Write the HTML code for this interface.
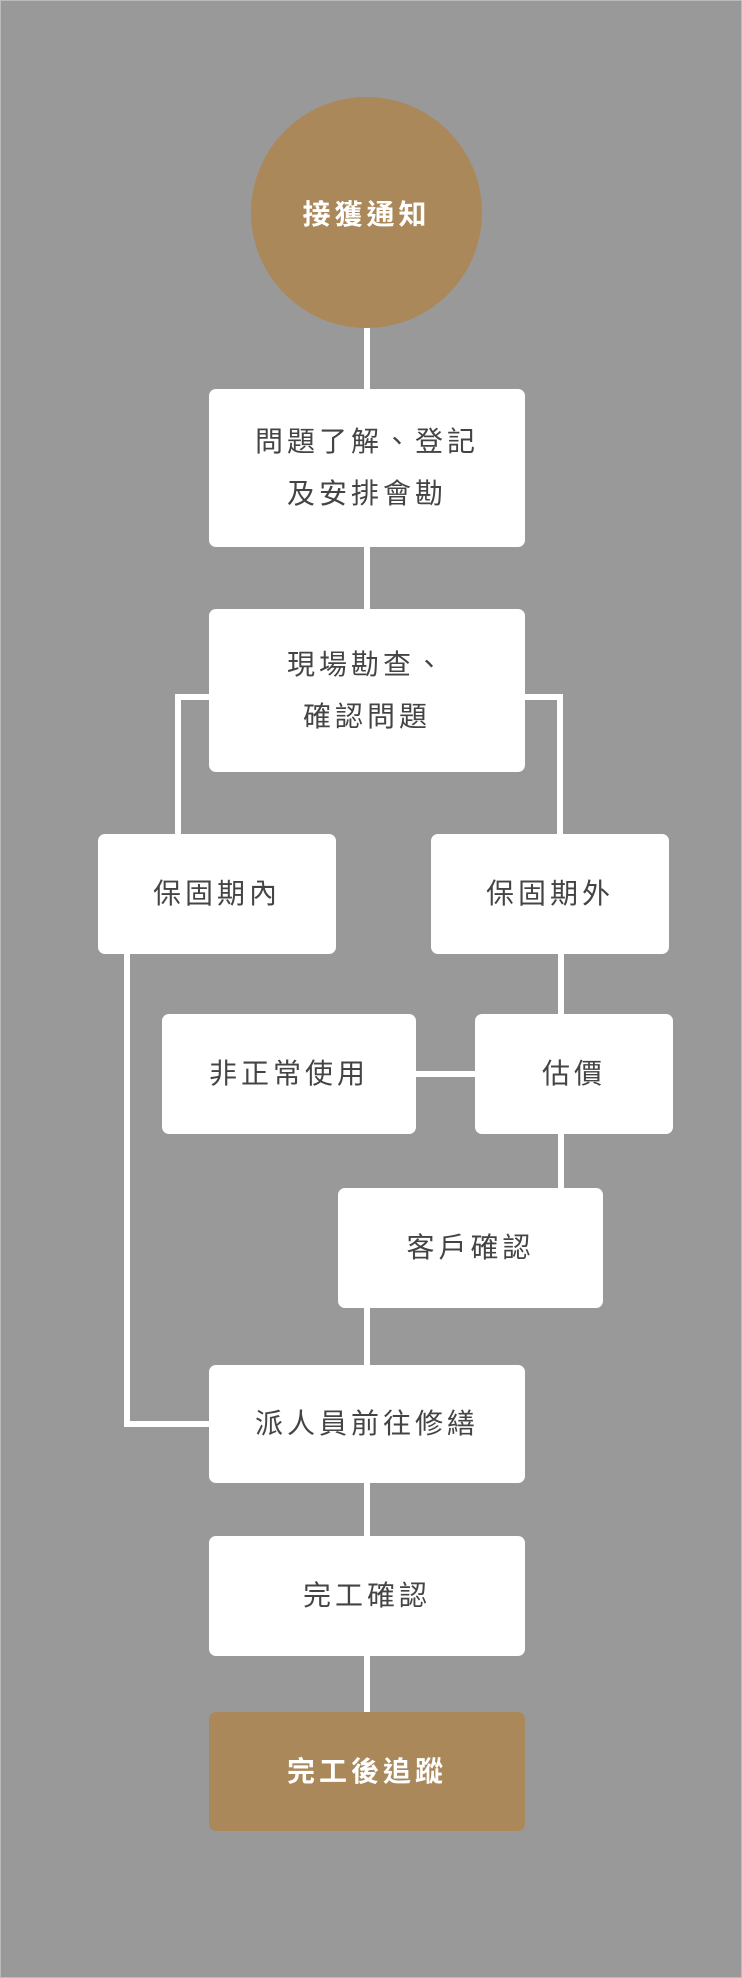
<!DOCTYPE html>
<html><head><meta charset="utf-8"><style>
html,body{margin:0;padding:0}
body{width:742px;height:1978px;background:#999;position:relative;overflow:hidden;font-family:"Liberation Sans","Noto Sans CJK TC",sans-serif}
.frame{position:absolute;left:0;top:0;width:740px;height:1976px;border:1px solid #bbb}
.b{position:absolute;background:#fff;border-radius:7px;display:flex;align-items:center;justify-content:center;text-align:center;color:#444;font-size:28px;letter-spacing:4px;line-height:52px}
.g{background:#ab8859;color:#fff;font-weight:bold}
.l{position:absolute;background:#fff}
.c{position:absolute;left:251px;top:97px;width:231px;height:231px;border-radius:50%;background:#ab8859;color:#fff;font-weight:bold;font-size:28px;letter-spacing:4px;display:flex;align-items:center;justify-content:center}
</style></head><body>
<div class="frame"></div>
<div class="l" style="left:364px;top:320px;width:6px;height:80px"></div>
<div class="l" style="left:364px;top:540px;width:6px;height:80px"></div>
<div class="l" style="left:175px;top:694px;width:40px;height:6px"></div>
<div class="l" style="left:175px;top:694px;width:6px;height:145px"></div>
<div class="l" style="left:520px;top:694px;width:43px;height:6px"></div>
<div class="l" style="left:557px;top:694px;width:6px;height:145px"></div>
<div class="l" style="left:124px;top:950px;width:6px;height:477px"></div>
<div class="l" style="left:124px;top:1421px;width:90px;height:6px"></div>
<div class="l" style="left:558px;top:950px;width:6px;height:70px"></div>
<div class="l" style="left:410px;top:1071px;width:70px;height:6px"></div>
<div class="l" style="left:558px;top:1130px;width:6px;height:62px"></div>
<div class="l" style="left:364px;top:1300px;width:6px;height:70px"></div>
<div class="l" style="left:364px;top:1478px;width:6px;height:62px"></div>
<div class="l" style="left:364px;top:1650px;width:6px;height:66px"></div>
<div class="c">接獲通知</div>
<div class="b" style="left:209px;top:389px;width:316px;height:158px">問題了解、登記<br>及安排會勘</div>
<div class="b" style="left:209px;top:609px;width:316px;height:163px">現場勘查、<br>確認問題</div>
<div class="b" style="left:98px;top:834px;width:238px;height:120px">保固期內</div>
<div class="b" style="left:431px;top:834px;width:238px;height:120px">保固期外</div>
<div class="b" style="left:162px;top:1014px;width:254px;height:120px">非正常使用</div>
<div class="b" style="left:475px;top:1014px;width:198px;height:120px">估價</div>
<div class="b" style="left:338px;top:1188px;width:265px;height:120px">客戶確認</div>
<div class="b" style="left:209px;top:1365px;width:316px;height:118px">派人員前往修繕</div>
<div class="b" style="left:209px;top:1536px;width:316px;height:120px">完工確認</div>
<div class="b g" style="left:209px;top:1712px;width:316px;height:119px">完工後追蹤</div>
</body></html>
